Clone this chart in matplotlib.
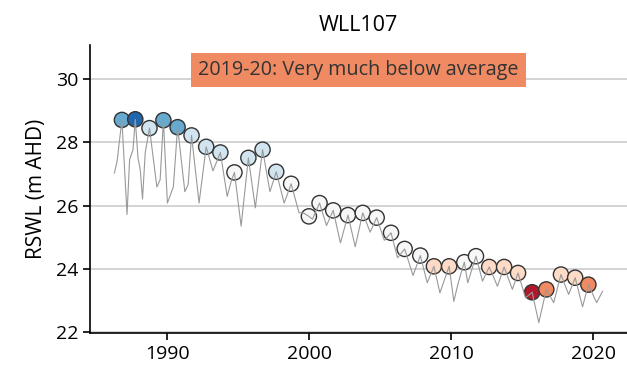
import numpy as np
import matplotlib
matplotlib.use("Agg")
import matplotlib.pyplot as plt

plt.rcParams['font.family'] = ['Open Sans', 'DejaVu Sans']

# ---------------- data ----------------
site = "WLL107"
note = "2019-20: Very much below average"
note_colour = "#ef8a62"

# hydrograph (decimal year, RSWL)
line_years = [1986.28, 1986.47, 1986.81, 1987.17, 1987.35, 1987.59, 1987.75, 1987.94,
              1988.10, 1988.26, 1988.45, 1988.75, 1989.27, 1989.50, 1989.73, 1990.01,
              1990.43, 1990.73, 1991.24, 1991.47, 1991.71, 1992.24, 1992.74, 1993.22,
              1993.74, 1994.22, 1994.50, 1994.73, 1995.20, 1995.71, 1996.20, 1996.71,
              1997.23, 1997.67, 1998.23, 1998.72, 1999.27, 1999.62, 1999.97, 2000.22,
              2000.72, 2001.21, 2001.68, 2002.19, 2002.72, 2003.23, 2003.76, 2004.28,
              2004.74, 2005.28, 2005.75, 2006.21, 2006.71, 2007.30, 2007.81, 2008.30,
              2008.77, 2009.19, 2009.84, 2010.17, 2010.45, 2010.68, 2010.91, 2011.15,
              2011.73, 2012.19, 2012.66, 2013.24, 2013.71, 2014.29, 2014.69, 2015.22,
              2015.68, 2016.15, 2016.68, 2017.20, 2017.71, 2018.25, 2018.71, 2019.23,
              2019.64, 2020.22, 2020.64]
line_rswl = [27.03, 27.40, 28.71, 25.72, 27.45, 27.77, 28.73, 27.51,
             27.14, 26.21, 27.67, 28.45, 26.59, 26.82, 28.70, 26.08,
             26.59, 28.48, 26.44, 26.66, 28.22, 26.08, 27.86, 27.10,
             27.68, 26.29, 26.77, 27.05, 25.35, 27.51, 25.93, 27.77,
             26.44, 27.07, 26.08, 26.69, 25.78, 25.76, 25.66, 25.57,
             26.08, 25.37, 25.85, 24.82, 25.70, 24.70, 25.77, 25.16,
             25.62, 24.90, 25.14, 24.35, 24.63, 23.79, 24.42, 23.56,
             24.08, 23.24, 24.08, 22.97, 23.50, 23.87, 24.21, 23.56,
             24.40, 23.61, 24.06, 23.45, 24.06, 23.35, 23.87, 23.08,
             23.26, 22.30, 23.35, 22.93, 23.82, 23.19, 23.72, 22.80,
             23.50, 22.93, 23.29]

# seasonal peaks, one per season 1986-87 .. 2019-20
peak_years = [1986.81, 1987.75, 1988.75, 1989.73, 1990.73, 1991.71, 1992.74, 1993.74,
              1994.73, 1995.71, 1996.71, 1997.67, 1998.72, 1999.97, 2000.72, 2001.68,
              2002.72, 2003.76, 2004.74, 2005.75, 2006.71, 2007.81, 2008.77, 2009.84,
              2010.91, 2011.73, 2012.66, 2013.71, 2014.69, 2015.68, 2016.68, 2017.71,
              2018.71, 2019.64]
peak_rswl = [28.71, 28.73, 28.45, 28.70, 28.48, 28.22, 27.86, 27.68,
             27.05, 27.51, 27.77, 27.07, 26.69, 25.66, 26.08, 25.85,
             25.70, 25.77, 25.62, 25.14, 24.63, 24.42, 24.08, 24.08,
             24.21, 24.40, 24.06, 24.06, 23.87, 23.26, 23.35, 23.82,
             23.72, 23.50]
# class: 3 highest .. -3 lowest
peak_class = [2, 3, 1, 2, 2, 1, 1, 1,
              0, 1, 1, 1, 0, 0, 0, 0,
              0, 0, 0, 0, 0, 0, -1, -1,
              0, 0, -1, -1, -1, -3, -2, -1,
              -1, -2]

class_colours = {3: "#2166ac", 2: "#67a9cf", 1: "#d1e5f0", 0: "#f7f7f7",
                 -1: "#fddbc7", -2: "#ef8a62", -3: "#b2182b"}

# ---------------- plot ----------------
fig = plt.figure(figsize=(6.27, 3.74), dpi=100)
ax = fig.add_axes([0.1435, 0.1104, 0.8565, 0.7693])

ax.plot(line_years, line_rswl, color="#999999", lw=0.8, zorder=3)
ax.scatter(peak_years, peak_rswl, s=120,
           c=[class_colours[k] for k in peak_class],
           edgecolors="#333333", linewidths=1.0, zorder=2)

ax.set_ylim(21.98, 31.08)
ax.set_yticks([22, 24, 26, 28, 30])
ax.set_xticks([1990, 2000, 2010, 2020])
ax.grid(axis="y", color="#cccccc", lw=1.2)
ax.set_axisbelow(True)
for s in ["top", "right"]:
    ax.spines[s].set_visible(False)
for s in ["left", "bottom"]:
    ax.spines[s].set_linewidth(1.2)
ax.tick_params(labelsize=14, width=1.2, length=5)

ax.set_ylabel("RSWL (m AHD)", fontsize=15, labelpad=6)
ax.set_title(site, fontsize=15.5, pad=10)

ax.text(0.5, 0.913, note, transform=ax.transAxes, ha="center", va="center",
        fontsize=14.2, color="#333333", zorder=5,
        bbox=dict(boxstyle="square,pad=0.35", fc=note_colour, ec="none"))

fig.savefig("out.png", dpi=100)
